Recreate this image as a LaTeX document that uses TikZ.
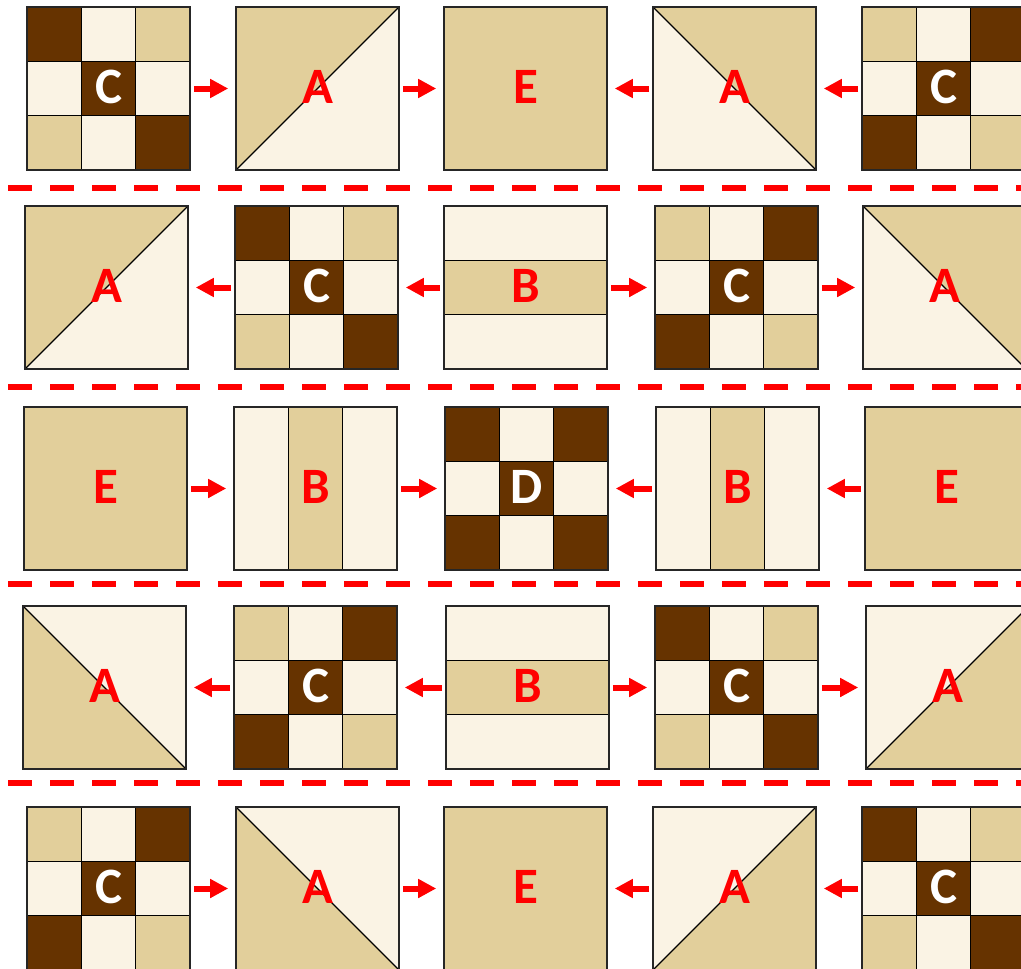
\documentclass[tikz,border=0pt]{standalone}
\usepackage{fontspec}
\setmainfont{Carlito}
\usetikzlibrary{arrows.meta}

\definecolor{quiltDark}{HTML}{663300}
\definecolor{quiltTan}{HTML}{E2CF9B}
\definecolor{quiltCream}{HTML}{FAF3E4}

\tikzset{
  patchline/.style={black, line width=1.2pt},
  quiltblock/.style={draw=black!85, line width=1.6pt, minimum size=163pt, inner sep=0pt,
    font=\fontsize{51}{60}\selectfont\bfseries},
  flowarrow/.style={red, line width=6pt, -{Triangle[length=18pt,width=18pt]},
    shorten <=3pt, shorten >=7pt},
  rowsep/.style={red, line width=6pt, dash pattern=on 24pt off 18pt}
}

% Block patterns: #1 = left edge, #2 = top edge (y runs downwards)
\newcommand{\ninepatch}[3]{%
  \foreach \col [count=\k from 0] in {#3} {
    \pgfmathsetmacro\patchx{#1 + mod(\k,3)*\squareSize/3}
    \pgfmathsetmacro\patchy{#2 + int(\k/3)*\squareSize/3}
    \fill[\col] (\patchx,\patchy) rectangle ++(\squareSize/3,\squareSize/3);
  }
  \foreach \t in {1,2} {
    \draw[patchline] (#1+\t*\squareSize/3,#2) -- ++(0,\squareSize);
    \draw[patchline] (#1,#2+\t*\squareSize/3) -- ++(\squareSize,0);
  }
}
\newcommand{\blockCm}[2]{\ninepatch{#1}{#2}{quiltDark,quiltCream,quiltTan,quiltCream,quiltDark,quiltCream,quiltTan,quiltCream,quiltDark}}
\newcommand{\blockCa}[2]{\ninepatch{#1}{#2}{quiltTan,quiltCream,quiltDark,quiltCream,quiltDark,quiltCream,quiltDark,quiltCream,quiltTan}}
\newcommand{\blockD}[2]{\ninepatch{#1}{#2}{quiltDark,quiltCream,quiltDark,quiltCream,quiltDark,quiltCream,quiltDark,quiltCream,quiltDark}}
\newcommand{\blockE}[2]{\fill[quiltTan] (#1,#2) rectangle ++(\squareSize,\squareSize);}
\newcommand{\blockBh}[2]{%
  \fill[quiltCream] (#1,#2) rectangle ++(\squareSize,\squareSize);
  \fill[quiltTan] (#1,#2+\squareSize/3) rectangle ++(\squareSize,\squareSize/3);
  \draw[patchline] (#1,#2+\squareSize/3) -- ++(\squareSize,0)
    (#1,#2+2*\squareSize/3) -- ++(\squareSize,0);
}
\newcommand{\blockBv}[2]{%
  \fill[quiltCream] (#1,#2) rectangle ++(\squareSize,\squareSize);
  \fill[quiltTan] (#1+\squareSize/3,#2) rectangle ++(\squareSize/3,\squareSize);
  \draw[patchline] (#1+\squareSize/3,#2) -- ++(0,\squareSize)
    (#1+2*\squareSize/3,#2) -- ++(0,\squareSize);
}
% half-square triangles, named after the corner of the tan half
\newcommand{\blockAtl}[2]{%
  \fill[quiltCream] (#1,#2) rectangle ++(\squareSize,\squareSize);
  \fill[quiltTan] (#1,#2) -- ++(\squareSize,0) -- (#1,#2+\squareSize) -- cycle;
  \draw[patchline] (#1+\squareSize,#2) -- (#1,#2+\squareSize);
}
\newcommand{\blockAtr}[2]{%
  \fill[quiltCream] (#1,#2) rectangle ++(\squareSize,\squareSize);
  \fill[quiltTan] (#1,#2) -- ++(\squareSize,0) -- ++(0,\squareSize) -- cycle;
  \draw[patchline] (#1,#2) -- ++(\squareSize,\squareSize);
}
\newcommand{\blockAbl}[2]{%
  \fill[quiltCream] (#1,#2) rectangle ++(\squareSize,\squareSize);
  \fill[quiltTan] (#1,#2) -- ++(0,\squareSize) -- ++(\squareSize,0) -- cycle;
  \draw[patchline] (#1,#2) -- ++(\squareSize,\squareSize);
}
\newcommand{\blockAbr}[2]{%
  \fill[quiltCream] (#1,#2) rectangle ++(\squareSize,\squareSize);
  \fill[quiltTan] (#1+\squareSize,#2) -- ++(0,\squareSize) -- ++(-\squareSize,0) -- cycle;
  \draw[patchline] (#1+\squareSize,#2) -- (#1,#2+\squareSize);
}

\begin{document}
\begin{tikzpicture}[x=1pt, y=-1pt]

% Parameters
\def\squareSize{163}       % Width and height of each block
\useasboundingbox (0,0) rectangle (1021,969);

% Blocks: row / top edge / left edges / pattern, letter and letter colour
\foreach \r/\top/\lefts/\kinds in {
    1/7/{27,236,444,653,862}/{Cm/C/white,Atl/A/red,E/E/red,Atr/A/red,Ca/C/white},
    2/206/{25,235,444,655,863}/{Atl/A/red,Cm/C/white,Bh/B/red,Ca/C/white,Atr/A/red},
    3/407/{24,234,445,656,865}/{E/E/red,Bv/B/red,D/D/white,Bv/B/red,E/E/red},
    4/606/{23,234,446,655,866}/{Abl/A/red,Ca/C/white,Bh/B/red,Cm/C/white,Abr/A/red},
    5/807/{27,236,444,653,862}/{Ca/C/white,Abl/A/red,E/E/red,Abr/A/red,Cm/C/white}} {
    \foreach \kind/\lab/\tc [count=\c] in \kinds {
        \pgfmathsetmacro\bx{{\lefts}[\c-1]}
        % Draw the patches, then the framed block with its letter
        \csname block\kind\endcsname{\bx}{\top}
        \node[quiltblock, text=\tc] (b\r\c) at (\bx+\squareSize/2,\top+\squareSize/2) {};
        \node[font=\fontsize{51}{60}\selectfont\bfseries, text=\tc, yshift=2pt] (t\r\c) at (b\r\c) {\lab};
    }
}

% Arrows between neighbouring blocks
\foreach \r/\dirs in {1/{r,r,l,l}, 2/{l,l,r,r}, 3/{r,r,l,l}, 4/{l,l,r,r}, 5/{r,r,l,l}} {
    \foreach \d [count=\c] in \dirs {
        \pgfmathtruncatemacro\n{\c+1}
        \if\d r
            \draw[flowarrow] (b\r\c) -- (b\r\n);
        \else
            \draw[flowarrow] (b\r\n) -- (b\r\c);
        \fi
    }
}

% Dashed lines between the rows
\foreach \y in {188,387,584,783} {
    \draw[rowsep] (8,\y) -- (1030,\y);
}

\end{tikzpicture}
\end{document}
